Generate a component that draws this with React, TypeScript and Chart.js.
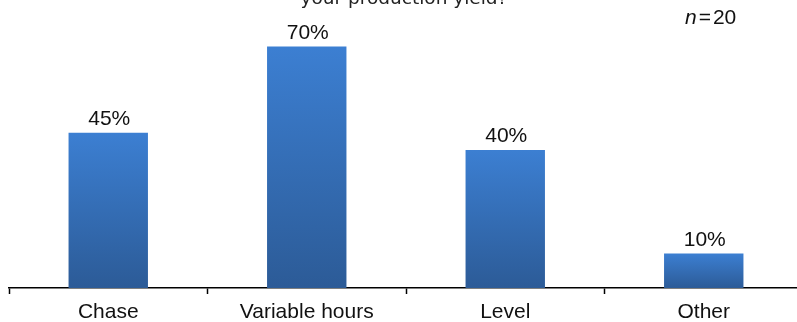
import React, { useEffect, useRef } from "react";
import { Chart, registerables } from "chart.js";

Chart.register(...registerables);

const categories = ["Chase", "Variable hours", "Level", "Other"];
const shares = [45, 70, 40, 10];
const titleTail = "your production yield?";
const sampleNote = "20";

const FONT = "'Liberation Sans', Arial, Helvetica, sans-serif";

const annotations = {
  id: "annotations",
  afterDatasetsDraw(chart: any) {
    const ctx = chart.ctx;
    const meta = chart.getDatasetMeta(0);
    ctx.save();
    ctx.fillStyle = "#111";
    ctx.font = `21px ${FONT}`;
    ctx.textAlign = "center";
    ctx.textBaseline = "alphabetic";
    meta.data.forEach((bar: any, i: number) => {
      ctx.fillText(`${shares[i]}%`, bar.x + 1, bar.y - 8);
    });

    // tail of the question heading, clipped by the top edge
    ctx.font = "18.5px 'DejaVu Sans', sans-serif";
    ctx.fillStyle = "#222";
    ctx.fillText(titleTail, chart.chartArea.left + 395, 4);

    // sample size note
    ctx.textAlign = "left";
    ctx.fillStyle = "#111";
    let x = chart.chartArea.left + 676;
    ctx.font = `italic 21px ${FONT}`;
    ctx.fillText("n", x, 24);
    x += ctx.measureText("n").width + 2;
    ctx.font = `21px ${FONT}`;
    ctx.fillText("=", x, 24);
    x += ctx.measureText("=").width + 2;
    ctx.fillText(sampleNote, x, 24);
    ctx.restore();
  },
};

export default function App() {
  const ref = useRef<HTMLCanvasElement>(null);

  useEffect(() => {
    document.body.style.margin = "0";
    document.body.style.overflow = "hidden";
    const canvas = ref.current!;
    const chart = new Chart(canvas, {
      type: "bar",
      data: {
        labels: categories,
        datasets: [
          {
            data: shares,
            barPercentage: 0.4,
            categoryPercentage: 1,
            borderWidth: 0,
            backgroundColor: (c: any) => {
              const ch = c.chart;
              const y = ch.scales && ch.scales.y;
              if (!y || typeof c.raw !== "number") return "#3570b8";
              const top = y.getPixelForValue(c.raw);
              const bottom = y.getPixelForValue(0);
              if (!isFinite(top) || !isFinite(bottom) || top === bottom) return "#3570b8";
              const g = ch.ctx.createLinearGradient(0, top, 0, bottom);
              g.addColorStop(0, "#3c7fd2");
              g.addColorStop(1, "#2c5b97");
              return g;
            },
          },
        ],
      },
      options: {
        animation: false,
        responsive: false,
        devicePixelRatio: 1,
        layout: { padding: { left: 9, right: 7, top: 12, bottom: 0 } },
        plugins: {
          legend: { display: false },
          tooltip: { enabled: false },
          title: { display: false },
        },
        scales: {
          x: {
            offset: true,
            grid: {
              display: true,
              offset: true,
              drawOnChartArea: false,
              drawTicks: true,
              tickLength: 6,
              tickWidth: 1.5,
              tickColor: "#000",
            },
            border: { display: true, color: "#000", width: 1.5 },
            ticks: {
              color: "#111",
              font: { family: FONT, size: 21 },
              padding: 6,
              maxRotation: 0,
              autoSkip: false,
            },
            afterFit: (s: any) => {
              s.height = 34;
            },
          },
          y: {
            display: false,
            min: 0,
            max: 80,
          },
        },
      },
      plugins: [annotations],
    });
    return () => chart.destroy();
  }, []);

  return (
    <div style={{ position: "fixed", left: 0, top: 0, width: 810, height: 322 }}>
      <canvas ref={ref} width={810} height={322} style={{ width: 810, height: 322, display: "block" }} />
    </div>
  );
}
